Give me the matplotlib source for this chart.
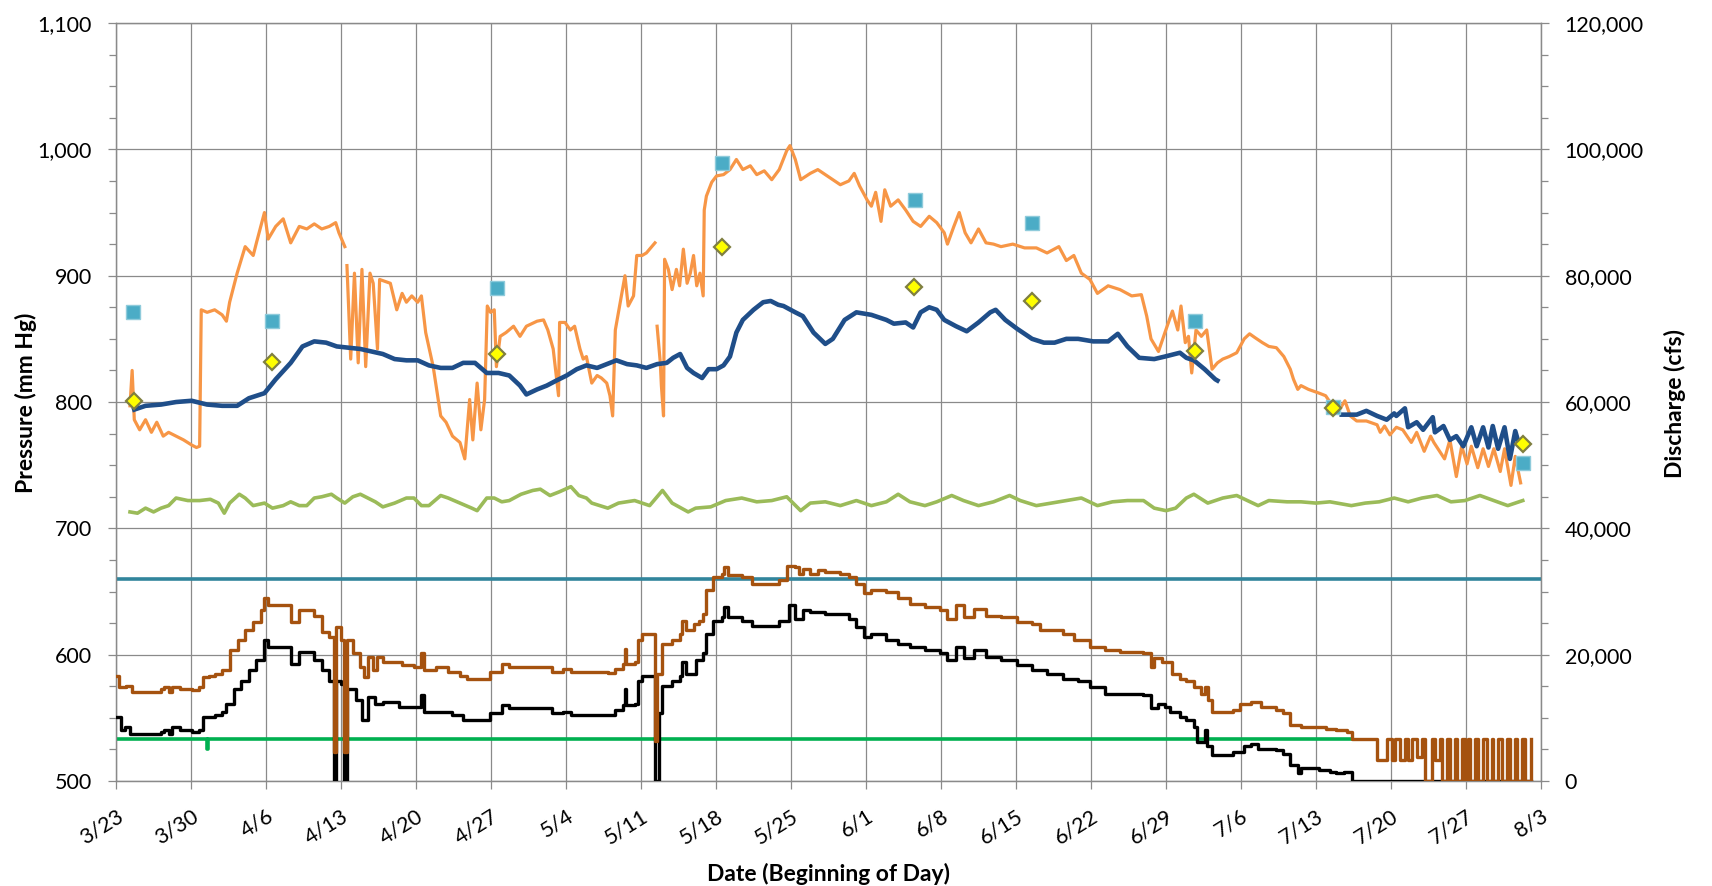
import numpy as np
import pandas as pd
import matplotlib
matplotlib.use('Agg')
import matplotlib.pyplot as plt
import matplotlib.dates as mdates
from matplotlib.ticker import MultipleLocator, FuncFormatter

plt.rcParams['font.family'] = ['Lato', 'DejaVu Sans']

# Day offsets are counted from 3/23; pressure in mm Hg, discharge in cfs
start = pd.Timestamp('2011-03-23')
nan = np.nan

# Orange pressure series (left axis)
orange_days = [1.3, 1.5, 1.7, 2.2, 2.75, 3.3, 3.8, 4.4, 4.9, 5.6, 6.3, 7.05, 7.5, 7.8, 7.95,
               8.5, 9.2, 9.9, 10.3, 10.6, 11.3, 12.05, 12.8, 13.1, 13.85, 14.2, 14.9, 15.6,
               16.3, 17.1, 17.8, 18.5, 19.2, 19.9, 20.5, 20.8, 21.35, 21.45, 21.55, 21.9,
               22.25, 22.6, 22.95, 23.3, 23.7, 24.0, 24.4, 24.6, 25.6, 26.2, 26.7, 27.1,
               27.6, 28.15, 28.5, 28.9, 29.6, 30.3, 30.8, 31.4, 32.1, 32.55, 33.0, 33.3,
               33.7, 34.05, 34.4, 34.65, 34.95, 35.3, 35.5, 35.85, 36.4, 37.1, 37.7, 38.3,
               39.3, 39.9, 40.3, 40.8, 41.3, 41.4, 41.9, 42.4, 42.8, 43.3, 43.6, 43.9, 44.4,
               44.9, 45.3, 45.8, 46.1, 46.35, 46.6, 47.0, 47.5, 47.8, 48.3, 48.6, 49.1,
               49.5, 50.0, 50.3, 50.4, 50.5, 50.8, 50.9, 51.1, 51.2, 51.55, 51.9, 52.3,
               52.6, 52.95, 53.3, 53.6, 53.9, 54.2, 54.5, 54.8, 54.9, 55.1, 55.6, 56.05,
               56.7, 57.3, 57.9, 58.5, 59.2, 59.8, 60.5, 61.2, 61.9, 62.6, 62.9, 63.4,
               63.9, 64.8, 65.5, 66.2, 66.9, 67.6, 68.4, 68.9, 69.4, 70.1, 70.5, 70.9,
               71.4, 71.75, 72.3, 73.0, 73.7, 74.4, 75.1, 75.9, 76.6, 77.3, 77.6, 78.2,
               78.7, 79.25, 79.8, 80.5, 81.2, 81.9, 82.6, 83.7, 84.8, 85.9, 86.9, 88.0,
               88.7, 89.4, 90.1, 90.9, 91.6, 92.6, 93.7, 94.8, 95.7, 96.2, 96.6, 97.3,
               97.9, 98.6, 99.1, 99.4, 99.8, 100.1, 100.4, 100.8, 101.3, 101.8, 102.3,
               102.8, 103.3, 103.9, 104.6, 105.3, 105.8, 106.3, 107.0, 107.6, 108.3, 109.0,
               109.6, 109.9, 110.3, 110.6, 111.3, 112.3, 112.9, 113.3, 114.2, 114.7, 115.2,
               115.8, 116.7, 117.7, 118.0, 118.4, 118.9, 119.5, 120.1, 120.9, 121.4, 122.1,
               122.7, 123.0, 124.0, 124.5, 125.1, 125.6, 126.1, 126.5, 127.1, 127.6, 128.1,
               128.6, 129.2, 129.6, 130.2, 130.6, 131.1]
orange_mmhg = [797, 825, 786, 778, 786, 776, 784, 773, 776, 773, 770, 766, 764, 765, 873,
               871, 873, 869, 864, 879, 902, 923, 916, 926, 950, 929, 939, 945,
               926, 939, 937, 941, 937, 939, 942, 934, 923, nan, 908, 834,
               902, 831, 905, 828, 902, 894, 842, 897, 894, 873, 886, 879,
               884, 879, 884, 855, 828, 789, 784, 773, 768, 755, 802, 770,
               815, 778, 802, 876, 871, 873, 828, 852, 855, 860, 852, 860,
               864, 865, 857, 842, 805, 863, 863, 857, 860, 842, 834, 836, 815,
               821, 819, 815, 805, 789, 857, 876, 900, 876, 884, 916, 916,
               918, 923, 926, nan, 860, 831, 813, 789, 913, 905, 889, 905,
               892, 921, 894, 902, 916, 892, 902, 884, 952, 963, 974, 979,
               980, 984, 992, 984, 987, 980, 983, 976, 984, 999, 1003, 992,
               976, 981, 984, 980, 976, 972, 975, 981, 971, 960, 955, 966,
               943, 968, 955, 960, 952, 943, 939, 947, 942, 934, 925, 939,
               950, 934, 926, 937, 926, 925, 923, 925, 922, 922, 918, 923,
               912, 916, 902, 897, 886, 892, 889, 884, 885, 868, 850, 840,
               855, 872, 857, 876, 847, 852, 823, 857, 852, 857, 826,
               831, 834, 836, 839, 850, 854, 851, 847, 844, 843, 836,
               826, 818, 810, 813, 810, 807, 805, 800, 794, 801, 789,
               785, 785, 782, 776, 781, 774, 780, 778, 768, 776, 761,
               773, 768, 755, 770, 741, 765, 751, 765, 748, 763, 749,
               763, 745, 763, 734, 757, 736]

# Dark blue pressure series (left axis)
blue_days = [1.7, 2.75, 4.2, 5.6, 7.05, 8.5, 9.9, 11.3, 12.4, 13.85, 14.9, 16.3, 17.4, 18.5,
             19.6, 20.6, 21.7, 22.8, 23.85, 24.9, 26.0, 27.1, 28.15, 29.2, 30.3, 31.4, 32.4,
             33.5, 34.6, 35.7, 36.7, 37.7, 38.3, 39.3, 40.2, 41.1, 42.06, 43.0, 43.9, 44.9,
             45.8, 46.7, 47.7, 48.6, 49.5, 50.5, 51.4, 52.0, 52.65, 53.3, 53.9, 54.7, 55.3,
             56.05, 56.7, 57.3, 57.9, 58.5, 59.5, 60.4, 61.1, 61.8, 62.3, 63.4, 64.1, 65.1,
             66.2, 66.9, 68.0, 69.1, 70.5, 71.9, 72.6, 73.7, 74.4, 75.1, 75.9, 76.6, 77.3,
             78.4, 79.4, 80.5, 81.6, 82.1, 83.0, 84.1, 85.5, 86.6, 87.6, 88.7, 89.8, 91.2,
             92.6, 93.5, 94.4, 95.5, 96.9, 97.9, 99.3, 99.9, 100.6, 101.6, 102.6, 102.8,
             108.0, 114.4, 115.8, 116.7, 117.7, 118.6, 119.3, 119.5, 120.3, 120.6, 121.4,
             122.0, 122.9, 123.1, 123.9, 124.5, 125.1, 125.75, 126.5, 127.0, 127.6, 128.1,
             128.5, 129.0, 129.6, 130.1, 130.6, 130.9]
blue_mmhg = [794, 797, 798, 800, 801, 798, 797, 797, 803, 807, 818, 831, 844, 848,
             847, 844, 843, 842, 840, 838, 834, 833, 833, 829, 827, 827, 831,
             831, 823, 823, 821, 813, 806, 810, 813, 817, 821, 826, 829, 827,
             830, 833, 830, 829, 827, 830, 831, 835, 838, 827, 823, 819, 826,
             826, 829, 836, 855, 865, 873, 879, 880, 877, 876, 871, 868, 855,
             846, 850, 865, 871, 869, 865, 862, 863, 859, 871, 875, 873, 865,
             860, 856, 863, 871, 873, 865, 858, 850, 847, 847, 850, 850, 848,
             848, 854, 844, 835, 834, 836, 839, 835, 833, 826, 818, 817,
             nan, 790, 790, 793, 789, 786, 791, 789, 795, 780, 784,
             778, 788, 776, 781, 770, 773, 765, 780, 765, 780, 764,
             781, 763, 780, 755, 777, 768]

# Light green pressure series (left axis)
green_days = [1.3, 2.0, 2.75, 3.5, 4.2, 4.9, 5.6, 6.7, 7.8, 8.8, 9.55, 10.1, 10.6, 11.5,
              12.05, 12.8, 13.85, 14.6, 15.6, 16.3, 17.1, 17.8, 18.5, 19.2, 20.1, 20.6,
              21.35, 22.1, 22.8, 23.5, 24.2, 24.9, 26.0, 27.1, 27.8, 28.5, 29.2, 30.3,
              31.0, 32.1, 33.2, 33.7, 34.6, 35.3, 36.0, 36.7, 37.8, 38.9, 39.6, 40.5,
              41.4, 42.45, 43.2, 43.9, 44.4, 45.9, 46.9, 48.4, 49.8, 51.0, 51.9, 53.4,
              54.1, 55.5, 56.9, 58.4, 59.8, 61.2, 62.6, 63.9, 64.8, 66.2, 67.6, 69.1,
              70.5, 71.9, 73.0, 74.1, 75.5, 76.6, 78.0, 79.1, 80.5, 81.9, 83.4, 84.4,
              85.9, 87.3, 88.7, 90.1, 91.6, 93.0, 94.4, 95.9, 96.9, 98.0, 98.9, 99.9,
              100.6, 101.9, 103.3, 104.6, 105.6, 106.6, 107.6, 109.3, 110.6, 112.0,
              113.3, 115.3, 116.6, 117.9, 119.3, 120.6, 121.9, 123.3, 124.6, 125.9,
              127.3, 128.6, 129.9, 131.3]
green_mmhg = [713, 712, 716, 713, 716, 718, 724, 722, 722, 723, 720, 712, 720, 727,
              724, 718, 720, 716, 718, 721, 718, 718, 724, 725, 727, 724,
              720, 725, 727, 724, 721, 717, 720, 724, 724, 718, 718, 726,
              724, 720, 716, 714, 724, 724, 721, 722, 727, 730, 731, 726,
              729, 733, 726, 724, 720, 716, 720, 722, 718, 730, 720, 713,
              716, 717, 722, 724, 721, 722, 725, 714, 720, 721, 718, 722,
              718, 721, 727, 721, 718, 721, 726, 722, 718, 721, 726, 722,
              718, 720, 722, 724, 718, 721, 722, 722, 716, 714, 716, 724,
              727, 720, 724, 726, 722, 718, 722, 721, 721, 720,
              721, 718, 720, 721, 724, 721, 724, 726, 721, 722,
              726, 722, 718, 722]

# Sampled points (left axis)
square_days = [1.6, 14.6, 35.6, 56.6, 74.6, 85.5, 100.7, 113.6, 131.35]
square_mmhg = [871, 864, 890, 989, 960, 942, 864, 796, 752]
diamond_days = [1.7, 14.6, 35.6, 56.6, 74.5, 85.5, 100.7, 113.6, 131.3]
diamond_mmhg = [801, 832, 838, 923, 891, 880, 840, 795, 767]

# Brown discharge series (right axis)
brown_days = [0, 0.25, 0.97, 1.5, 4.2, 4.5, 4.9, 5.26, 6.0, 7.05, 7.76, 8.1, 8.66, 9.2,
              9.9, 10.6, 11.34, 12.05, 12.77, 13.5, 13.84, 14.2, 15.6, 16.3, 17.06, 17.8,
              18.5, 19.2, 19.9, 20.3, 20.55, 21.0, 21.3, 21.55, 22.1, 22.8, 23.1, 23.5,
              24.0, 24.4, 24.9, 26.0, 26.7, 27.8, 28.5, 28.7, 29.9, 31.0, 32.1, 32.8,
              34.4, 34.9, 36.0, 36.7, 40.3, 40.7, 41.7, 42.45, 45.9, 46.6, 47.3, 47.5,
              47.6, 48.4, 48.7, 49.1, 50.3, 50.5, 51.0, 51.9, 52.6, 52.8, 53.2, 53.9,
              54.4, 54.8, 55.1, 55.7, 56.6, 56.75, 57.1, 58.4, 59.4, 61.2, 61.9, 62.6,
              63.4, 63.7, 64.1, 64.8, 65.5, 66.2, 67.6, 68.4, 69.1, 69.8, 70.5, 71.9,
              73.0, 74.1, 75.5, 76.9, 77.6, 78.4, 79.1, 80.1, 81.2, 82.6, 84.1, 85.5,
              86.2, 87.6, 88.4, 89.4, 90.9, 92.3, 93.7, 95.9, 96.6, 96.9, 97.6, 98.6,
              99.3, 99.9, 100.6, 101.3, 101.6, 101.9, 102.3, 104.3, 104.9, 105.9, 106.9,
              108.3, 108.9, 109.6, 110.6, 112.9, 113.9, 114.9, 115.4, 117.65, 118.6,
              119.06, 119.37, 119.84, 120.3, 120.6, 120.93, 121.4, 121.86, 122.17, 122.8,
              123.1, 123.57, 123.73, 124.2, 124.5, 124.97, 125.13, 125.6, 125.9, 126.2,
              126.4, 126.8, 127.15, 127.6, 127.93, 128.4, 128.55, 129.02, 129.33, 129.8,
              130.1, 130.6, 130.73, 131.2, 131.5, 132.1]
brown_cfs = [16700, 14900, 15100, 14100, 14600, 14900, 14100, 14900, 14600, 14400, 14900,
             16500, 16700, 17000, 17500, 20700, 22300, 23900, 25200, 27000, 28900, 27800,
             27800, 25200, 27000, 27000, 26200, 23600, 22800, 4600, 24400, 22300, 4600,
             22300, 20200, 18000, 16500, 19600, 17500, 19600, 18800, 18800, 18300, 18000,
             20200, 17500, 18000, 17300, 16700, 16200, 16200, 17300, 18600, 18000, 18000,
             17300, 17800, 17300, 17100, 17800, 18600, 20900, 18600, 18800, 22300, 23300,
             6400, 17000, 21700, 22300, 23300, 25400, 23900, 24900, 25400, 26500, 30200,
             32300, 32800, 33900, 32600, 32300, 31200, 31200, 31800, 34100, 33900, 32800,
             33600, 32800, 33400, 33100, 32800, 32300, 31200, 29700, 30200, 29900, 28900,
             28100, 27500, 27000, 25700, 27800, 26000, 27300, 26200, 26000, 25200, 24900,
             23900, 23900, 23300, 22300, 21200, 20700, 20400, 20200, 18000, 19400, 18800,
             17000, 16200, 15900, 14900, 13800, 14900, 12800, 10900, 11200, 12200, 12500,
             11700, 11200, 10700, 8800, 8500, 8300, 8000, 7800, 6700, 3300, 6700,
             3300, 6700, 3300, 6700, 3300, 6700, 3800, 6700, 0, 6700,
             3300, 6700, 0, 6700, 0, 6700, 0, 6700, 0, 6700,
             0, 6700, 0, 6700, 0, 6700, 0, 6700, 0, 6700,
             0, 6700, 0, 6700, 0, 6700]

# Black discharge series (right axis)
black_days = [0, 0.43, 0.8, 1.32, 4.2, 4.5, 4.9, 5.26, 6.0, 7.05, 7.76, 8.1, 9.2, 9.9,
              10.3, 11.0, 11.7, 12.4, 13.1, 13.84, 14.2, 15.6, 16.3, 17.06, 17.8, 18.5,
              19.2, 19.9, 20.3, 20.55, 21.0, 21.3, 21.55, 22.4, 22.96, 23.5, 24.2, 24.9,
              26.4, 28.5, 28.7, 29.9, 31.4, 32.4, 34.9, 36.0, 36.7, 40.7, 41.7, 42.45,
              46.6, 47.3, 47.5, 47.6, 48.4, 48.7, 49.1, 50.3, 50.7, 51.0, 51.9, 52.6,
              52.8, 53.2, 54.1, 54.8, 55.1, 55.7, 56.6, 56.75, 57.1, 58.4, 59.4, 61.9,
              62.8, 63.4, 64.1, 64.8, 66.2, 68.4, 69.1, 69.8, 70.5, 71.9, 73.0, 74.1,
              75.5, 76.9, 77.6, 78.4, 79.1, 80.1, 81.2, 82.6, 84.1, 85.5, 86.9, 88.4,
              89.8, 90.9, 92.3, 95.9, 96.6, 97.3, 97.9, 98.4, 99.3, 99.9, 100.6, 100.9,
              101.6, 101.8, 102.3, 104.3, 105.3, 105.9, 106.6, 108.3, 108.9, 109.6,
              110.3, 110.6, 112.3, 113.3, 113.9, 114.6, 115.4, 132.1]
black_cfs = [10200, 8000, 8500, 7500, 7800, 8000, 7500, 8500, 8000, 7800, 8000, 10100,
             10400, 10900, 12200, 14600, 15900, 17500, 19100, 22300, 21200, 21200, 18600,
             20400, 20400, 19100, 17500, 15900, 0, 15900, 15400, 0, 14600, 12800, 9600,
             13300, 12200, 12500, 11700, 13600, 10900, 10900, 10400, 9600, 10700, 12000,
             11500, 10700, 10900, 10400, 11200, 12000, 14600, 12000, 12200, 15900, 16700,
             0, 10700, 15100, 15900, 16700, 18800, 17000, 19100, 20200, 23300, 25400,
             26000, 27500, 26000, 25400, 24600, 25400, 27800, 25700, 27000, 26800, 26500,
             25700, 24400, 22800, 23300, 22300, 21700, 21200, 20700, 20200, 19100, 21200,
             19400, 20700, 19600, 19100, 18300, 17500, 17000, 16200, 15900, 14900, 13800,
             13600, 11500, 12200, 11700, 10900, 10100, 9600, 8500, 6200, 8000, 5600, 4100,
             4600, 5600, 5900, 5100, 4900, 4300, 2500, 1200, 2000, 1700, 1400, 1200, 1400,
             0, 0]

# Reference levels (right axis)
teal_days = [0, 133]
teal_cfs = [32000, 32000]
limit_days = [0, 8.45, 8.55, 115.4]
limit_cfs = [6700, 5100, 6700, 6700]


def to_dates(days):
    return start + pd.to_timedelta(np.asarray(days, dtype=float), unit='D')


fig, ax = plt.subplots(figsize=(17.12, 8.86), dpi=100)
fig.subplots_adjust(left=0.0678, right=0.9001, bottom=0.1185, top=0.974)
ax2 = ax.twinx()

grid_col = '#8a8a8a'

# left axis series
ax.plot(to_dates(orange_days), orange_mmhg, color='#F79646', lw=2.3, zorder=3)
ax.plot(to_dates(blue_days), blue_mmhg, color='#1F4E89', lw=3.3, zorder=4)
ax.plot(to_dates(green_days), green_mmhg, color='#9BBB59', lw=2.6, zorder=3)
ax.plot(to_dates(square_days), square_mmhg, ls='none', marker='s', ms=9.5,
        color='#4BACC6', mec='#8FCBDB', mew=1.0, zorder=5)
ax.plot(to_dates(diamond_days), diamond_mmhg, ls='none', marker='D', ms=8.5,
        mfc='#FFFF00', mec='#7F7F40', mew=1.6, zorder=6)

# right axis series
ax2.plot(to_dates(teal_days), teal_cfs, color='#31859C', lw=2.6, zorder=2)
ax2.plot(to_dates(limit_days), limit_cfs, color='#00B050', lw=2.6,
         drawstyle='steps-post', zorder=2)
ax2.plot(to_dates(black_days), black_cfs, color='black', lw=2.4,
         drawstyle='steps-post', zorder=3)
ax2.plot(to_dates(brown_days), brown_cfs, color='#A5520F', lw=2.4,
         drawstyle='steps-post', zorder=4)

# axes
ax.set_xlim(start, start + pd.Timedelta(days=133))
ax.set_ylim(500, 1100)
ax2.set_ylim(0, 120000)

ticks = pd.date_range(start, periods=20, freq='7D')
ax.set_xticks(ticks)
ax.xaxis.set_major_formatter(mdates.DateFormatter('%-m/%-d'))
for lab in ax.get_xticklabels():
    lab.set_rotation(32)
    lab.set_ha('right')
    lab.set_va('top')
    lab.set_rotation_mode('anchor')

ax.yaxis.set_major_locator(MultipleLocator(100))
ax.yaxis.set_minor_locator(MultipleLocator(25))
ax.yaxis.set_major_formatter(FuncFormatter(lambda v, p: f'{v:,.0f}'))
ax2.yaxis.set_major_locator(MultipleLocator(20000))
ax2.yaxis.set_minor_locator(MultipleLocator(5000))
ax2.yaxis.set_major_formatter(FuncFormatter(lambda v, p: f'{v:,.0f}'))

ax.grid(True, which='major', color=grid_col, lw=0.9)
ax.set_axisbelow(True)

ax.tick_params(axis='x', length=6, width=0.9, color=grid_col, labelsize=15.5, pad=12)
ax.tick_params(axis='y', which='major', length=6, width=0.9, color=grid_col,
               labelsize=15.5, pad=11.5)
ax.tick_params(axis='y', which='minor', length=5, width=0.9, color=grid_col)
ax2.tick_params(axis='y', which='major', length=6, width=0.9, color=grid_col,
                labelsize=15.5, pad=11)
ax2.tick_params(axis='y', which='minor', length=5, width=0.9, color=grid_col)

for a in (ax, ax2):
    for s in a.spines.values():
        s.set_color(grid_col)
        s.set_linewidth(0.9)

fig.text(26 / 1712, 1 - 403 / 886, 'Pressure (mm Hg)', rotation=90, ha='center',
         va='center', fontsize=16.5, fontweight='bold')
fig.text(1675 / 1712, 1 - 403 / 886, 'Discharge (cfs)', rotation=90, ha='center',
         va='center', fontsize=16.5, fontweight='bold')
fig.text(0.4839, 1 - 881 / 886, 'Date (Beginning of Day)', ha='center', va='baseline',
         fontsize=16.5, fontweight='bold')

fig.savefig('out.png', dpi=100)
